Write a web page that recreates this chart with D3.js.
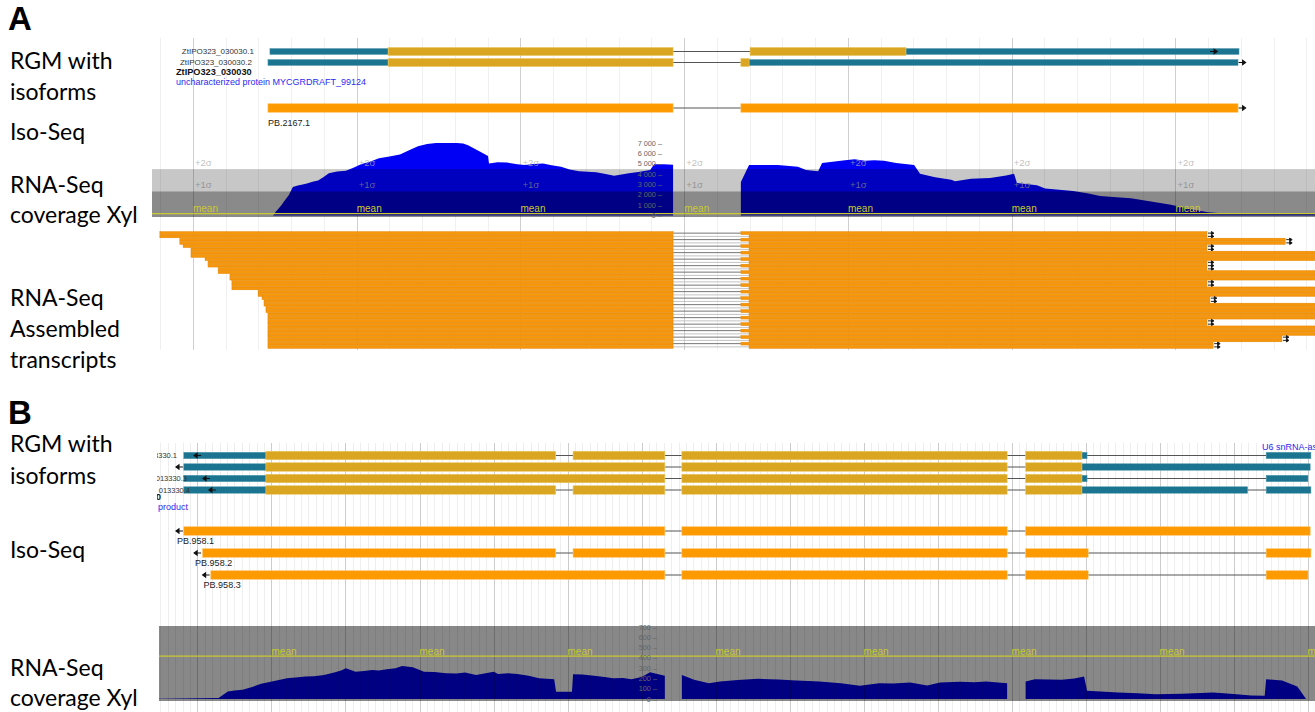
<!DOCTYPE html>
<html>
<head>
<meta charset="utf-8">
<script src="https://cdn.jsdelivr.net/npm/d3@7"></script>
<style>
  html, body { margin: 0; padding: 0; background: #fff; }
  svg { display: block; }
</style>
</head>
<body>
<svg id="fig" width="1315" height="712"></svg>
<script>
// ---------------- data ----------------
const panelNames = ["A", "B"];
const sideLabelsA = [["RGM with", "isoforms"], ["Iso-Seq"], ["RNA-Seq", "coverage Xyl"], ["RNA-Seq", "Assembled", "transcripts"]];
const sideLabelsB = [["RGM with", "isoforms"], ["Iso-Seq"], ["RNA-Seq", "coverage Xyl"]];

// genomic window shown in each panel (bp)
const viewA = [375, 3926];
const viewB = [896, 4020];

// Panel A: reference gene models
const rgmA_ids = ["ZtIPO323_030030.1", "ZtIPO323_030030.2"];
const rgmA_gene = "ZtIPO323_030030";
const rgmA_desc = "uncharacterized protein MYCGRDRAFT_99124";
const rgmA_utr = [[[735, 1096], [2677, 3694]], [[729, 1096], [2198, 3691]]];
const rgmA_cds = [[[1096, 1966], [2201, 2677]], [[1096, 1966], [2173, 2198]]];
const rgmA_arrow = [3615, 3705];

// Panel A: Iso-Seq transcript
const isoA_ids = ["PB.2167.1"];
const isoA_blocks = [[[729, 1966], [2173, 3691]]];
const isoA_arrow = [3705];

// Panel A: RNA-Seq coverage (position bp, depth)
const covA_pos = [375, 745, 752, 763, 770, 778, 786, 793, 805, 820, 835, 848, 865, 882, 898, 915, 940, 967, 990, 1013, 1040, 1068, 1100, 1132, 1160, 1187, 1215, 1242, 1306, 1325, 1340, 1373, 1401, 1404, 1430, 1459, 1490, 1514, 1540, 1569, 1595, 1624, 1650, 1679, 1705, 1731, 1760, 1786, 1831, 1860, 1896, 1908, 1938, 1966, 1966, 2173, 2173, 2198, 2286, 2347, 2372, 2409, 2421, 2491, 2520, 2552, 2580, 2610, 2647, 2702, 2720, 2766, 2815, 2827, 2876, 2934, 2983, 3007, 3016, 3077, 3102, 3145, 3187, 3230, 3270, 3320, 3364, 3425, 3486, 3544, 3599, 3630, 3926];
const covA_val = [0, 0, 350, 720, 1000, 1350, 1700, 1980, 2760, 2900, 3000, 3080, 3250, 3390, 3700, 4080, 4250, 4330, 4600, 4960, 5200, 5530, 5700, 5900, 6300, 6690, 6900, 7000, 7000, 6950, 6780, 6220, 5750, 5020, 5150, 5120, 4950, 4870, 4980, 5020, 4850, 4710, 4450, 4270, 4230, 4180, 4000, 3830, 4080, 4200, 4400, 4960, 4960, 4900, 0, 0, 3230, 4870, 4870, 4710, 4400, 4270, 5060, 5340, 5420, 5280, 5330, 5280, 5060, 4870, 4020, 3700, 3450, 3300, 3550, 3610, 3860, 4020, 3140, 2920, 2600, 2480, 2360, 2150, 1880, 1760, 1660, 1350, 1040, 630, 310, 250, 180];
const covA_mean = 180, covA_sd = 2150;
const covA_ticks = [0, 1000, 2000, 3000, 4000, 5000, 6000, 7000];
const covA_tickText = ["0", "1 000", "2 000", "3 000", "4 000", "5 000", "6 000", "7 000"];

// Panel A: assembled transcripts (one per row)
const asmA_start = [399, 399, 460, 460, 470, 494, 494, 494, 537, 546, 546, 577, 577, 613, 613, 619, 619, 619, 699, 699, 711, 717, 717, 723, 723, 729, 729, 729, 729, 729, 729, 729, 729, 729, 729, 729];
const asmA_exon1End = 1966;
const asmA_exon2Start = [2173, 2198, 2173, 2198, 2173, 2198, 2173, 2198, 2173, 2198, 2173, 2198, 2173, 2198, 2173, 2198, 2173, 2198, 2173, 2198, 2173, 2198, 2173, 2198, 2173, 2198, 2173, 2198, 2173, 2198, 2173, 2198, 2173, 2198, 2173, 2198];
const asmA_end = [3596, 3596, 3835, 3835, 3596, 3596, 3990, 3990, 3990, 3596, 3596, 3596, 3990, 3990, 3990, 3596, 3596, 3990, 3990, 3990, 3605, 3605, 3990, 3990, 3990, 3990, 3990, 3596, 3596, 3990, 3990, 3990, 3825, 3825, 3615, 3615];

// Panel B: reference gene models
const rgmB_ids = ["ZtIPO323_013330.1", "ZtIPO323_013330.2", "ZtIPO323_013330.3", "ZtIPO323_013330.4"];
const rgmB_gene = "ZtIPO323_013330";
const rgmB_desc = "product";
const rgmB_utr = [
  [[963, 1185], [3390, 3404], [3888, 4009]],
  [[963, 1185], [3390, 4007]],
  [[963, 1185], [3390, 3404], [3888, 4001]],
  [[963, 1185], [3390, 3838], [3888, 4009]]
];
const rgmB_cds = [
  [[1185, 1968], [2015, 2263], [2309, 3188], [3238, 3390]],
  [[1185, 2263], [2309, 3188], [3238, 3390]],
  [[1185, 2263], [2309, 3188], [3238, 3390]],
  [[1185, 1968], [2015, 2263], [2309, 3188], [3238, 3390]]
];
const rgmB_arrow = [999, 950, 1023, 1039];
const rgmB_neighbour = "U6 snRNA-associated";

// Panel B: Iso-Seq transcripts
const isoB_ids = ["PB.958.1", "PB.958.2", "PB.958.3"];
const isoB_blocks = [
  [[963, 2263], [2309, 3188], [3238, 4007]],
  [[1014, 1968], [2015, 2263], [2309, 3188], [3238, 3407], [3888, 4009]],
  [[1036, 2263], [2309, 3188], [3238, 3407], [3888, 4001]]
];
const isoB_arrow = [950, 999, 1022];

// Panel B: RNA-Seq coverage
const covB_pos = [896, 899, 1057, 1082, 1100, 1122, 1150, 1172, 1201, 1220, 1242, 1265, 1292, 1315, 1342, 1372, 1390, 1401, 1427, 1450, 1472, 1490, 1512, 1535, 1553, 1582, 1612, 1640, 1672, 1700, 1723, 1753, 1801, 1812, 1840, 1864, 1895, 1923, 1964, 1969, 2012, 2015, 2040, 2072, 2100, 2123, 2150, 2173, 2200, 2223, 2263, 2263, 2309, 2309, 2342, 2382, 2412, 2460, 2515, 2570, 2618, 2650, 2680, 2739, 2790, 2842, 2880, 2926, 2972, 3007, 3060, 3100, 3131, 3188, 3188, 3238, 3238, 3263, 3300, 3335, 3370, 3396, 3404, 3488, 3540, 3590, 3660, 3745, 3800, 3847, 3884, 3888, 3931, 3972, 3996, 4020];
const covB_val = [3, 3, 10, 74, 82, 90, 120, 148, 170, 185, 202, 210, 218, 222, 234, 260, 280, 298, 266, 272, 282, 278, 289, 300, 321, 308, 266, 262, 250, 248, 257, 234, 266, 244, 250, 244, 225, 202, 193, 70, 70, 241, 238, 225, 215, 202, 205, 193, 215, 260, 225, 0, 0, 234, 186, 154, 170, 185, 196, 190, 180, 176, 170, 154, 128, 154, 150, 160, 132, 160, 168, 164, 170, 154, 0, 0, 170, 193, 190, 186, 200, 218, 80, 64, 55, 45, 52, 64, 48, 35, 32, 193, 180, 122, 0, 0];
const covB_mean = 417, covB_sd = 330;
const covB_ticks = [0, 100, 200, 300, 400, 500, 600, 700];

// ---------------- drawing ----------------
const svg = d3.select("#fig");
const C = {
  teal: "#1b7590", gold: "#daa520", orange: "#fd9a00", asm: "#f7960a",
  intron: "#555", blue: "#0000f5", meanCol: "#c9c930", sigma: "rgba(170,170,170,0.75)",
  tick: "#666", desc: "#2b2bf0"
};
const sideFont = "Lato, 'Open Sans', sans-serif";
const trackFont = "'Liberation Sans', Arial, sans-serif";

// left-hand panel and track titles
function sideText(lines, x, y0, lh) {
  const t = svg.append("text").attr("font-family", sideFont).attr("font-size", 23).attr("fill", "#000");
  lines.forEach((s, i) => t.append("tspan").attr("x", x).attr("y", y0 + i * lh).text(s));
}
svg.append("text").attr("x", 8).attr("y", 30).attr("font-family", "'Liberation Sans', Arial, sans-serif")
  .attr("font-weight", "bold").attr("font-size", 33).text(panelNames[0]);
svg.append("text").attr("x", 8).attr("y", 424).attr("font-family", "'Liberation Sans', Arial, sans-serif")
  .attr("font-weight", "bold").attr("font-size", 33).text(panelNames[1]);
sideText(sideLabelsA[0], 10, 69, 31);
sideText(sideLabelsA[1], 10, 140, 31);
sideText(sideLabelsA[2], 10, 193, 30);
sideText(sideLabelsA[3], 10, 306, 31);
sideText(sideLabelsB[0], 10, 452, 32);
sideText(sideLabelsB[1], 10, 558, 31);
sideText(sideLabelsB[2], 10, 676, 30);

// generic helpers
function arrowGlyph(g, x, y, dir) {
  const d = dir > 0
    ? `M${x},${y}h5 M${x + 7},${y}l-3,-2.2v4.4z`
    : `M${x},${y}h-5 M${x - 7},${y}l3,-2.2v4.4z`;
  g.append("path").attr("d", d).attr("stroke", "#111").attr("stroke-width", 1.1).attr("fill", "#111");
}
function introns(blocks) {
  const b = blocks.slice().sort((p, q) => p[0] - q[0]);
  const out = [];
  for (let i = 1; i < b.length; i++) if (b[i][0] > b[i - 1][1]) out.push([b[i - 1][1], b[i][0]]);
  return out;
}
function grid(g, x, box, major, minor, minorCol, majorCol) {
  const [d0, d1] = x.domain();
  const minors = d3.range(Math.ceil(d0 / minor) * minor, d1, minor);
  g.selectAll(null).data(minors.filter(v => v % major !== 0)).join("line")
    .attr("x1", d => Math.round(x(d)) + 0.5).attr("x2", d => Math.round(x(d)) + 0.5)
    .attr("y1", box.y0).attr("y2", box.y1).attr("stroke", minorCol).attr("stroke-width", 1);
  g.selectAll(null).data(minors.filter(v => v % major === 0)).join("line")
    .attr("x1", d => Math.round(x(d)) + 0.5).attr("x2", d => Math.round(x(d)) + 0.5)
    .attr("y1", box.y0).attr("y2", box.y1).attr("stroke", majorCol).attr("stroke-width", 1);
}
function geneRow(g, x, y, utr, cds, hU, hC) {
  const all = utr.concat(cds);
  introns(all).forEach(([a, b]) => g.append("line").attr("x1", x(a)).attr("x2", x(b)).attr("y1", y).attr("y2", y)
    .attr("stroke", C.intron).attr("stroke-width", 1));
  utr.forEach(([a, b]) => g.append("rect").attr("x", x(a)).attr("width", x(b) - x(a)).attr("y", y - hU / 2).attr("height", hU)
    .attr("fill", C.teal).attr("stroke", "#5a9db2").attr("stroke-width", 0.5));
  cds.forEach(([a, b]) => g.append("rect").attr("x", x(a)).attr("width", x(b) - x(a)).attr("y", y - hC / 2).attr("height", hC)
    .attr("fill", C.gold).attr("stroke", "#ecc660").attr("stroke-width", 0.6));
}
function isoRow(g, x, y, blocks, h) {
  introns(blocks).forEach(([a, b]) => g.append("line").attr("x1", x(a)).attr("x2", x(b)).attr("y1", y).attr("y2", y)
    .attr("stroke", C.intron).attr("stroke-width", 1));
  blocks.forEach(([a, b]) => g.append("rect").attr("x", x(a)).attr("width", x(b) - x(a)).attr("y", y - h / 2).attr("height", h)
    .attr("fill", C.orange).attr("stroke", "#fbc060").attr("stroke-width", 0.6));
}
function coverage(g, x, y, pos, val) {
  const pts = pos.map((p, i) => [p, val[i]]);
  g.append("path").datum(pts)
    .attr("d", d3.area().x(d => x(d[0])).y0(y(0)).y1(d => y(d[1])))
    .attr("fill", C.blue);
}

// ======== Panel A ========
const boxA = { x0: 152, x1: 1315, y0: 38, y1: 350 };
const xA = d3.scaleLinear().domain(viewA).range([boxA.x0, boxA.x1]);
svg.append("clipPath").attr("id", "clipA").append("rect")
  .attr("x", boxA.x0).attr("y", boxA.y0 - 8).attr("width", boxA.x1 - boxA.x0).attr("height", boxA.y1 - boxA.y0 + 8);
const gA = svg.append("g").attr("clip-path", "url(#clipA)");
grid(gA, xA, boxA, 500, 100, "#f0f0f0", "#cfcfcf");

// gene models
const rowA = [51.5, 62.5];
rgmA_ids.forEach((id, i) => {
  geneRow(gA, xA, rowA[i], rgmA_utr[i], rgmA_cds[i], 6, 8);
  gA.append("text").attr("x", xA(d3.min(rgmA_utr[i], d => d[0])) - 16).attr("y", rowA[i] + 2.8)
    .attr("text-anchor", "end").attr("font-family", trackFont).attr("font-size", 8).attr("fill", "#333").text(id);
});
arrowGlyph(gA, xA(rgmA_arrow[0]) - 3, rowA[0], 1);
arrowGlyph(gA, xA(rgmA_arrow[1]) - 4, rowA[1], 1);
gA.append("text").attr("x", 176).attr("y", 75).attr("font-family", trackFont).attr("font-size", 9.2)
  .attr("font-weight", "bold").attr("fill", "#111").text(rgmA_gene);
gA.append("text").attr("x", 176).attr("y", 84.5).attr("font-family", trackFont).attr("font-size", 9)
  .attr("fill", C.desc).text(rgmA_desc);

// Iso-Seq
const isoYA = 108;
isoRow(gA, xA, isoYA, isoA_blocks[0], 8.5);
arrowGlyph(gA, xA(isoA_arrow[0]) - 4, isoYA, 1);
gA.append("text").attr("x", xA(isoA_blocks[0][0][0])).attr("y", 125.5).attr("font-family", trackFont)
  .attr("font-size", 9).attr("fill", "#222").text(isoA_ids[0]);

// coverage
const yA = d3.scaleLinear().domain([0, 7000]).range([215.5, 143]);
const covBottomA = 217;
coverage(gA, xA, yA, covA_pos, covA_val);
// sigma labels
const majA = d3.range(500, viewA[1], 500);
majA.forEach(p => {
  gA.append("text").attr("x", xA(p) + 2).attr("y", yA(covA_mean + 2 * covA_sd) - 3).attr("font-family", trackFont)
    .attr("font-size", 9.5).attr("fill", C.sigma).text("+2σ");
  gA.append("text").attr("x", xA(p) + 2).attr("y", yA(covA_mean + covA_sd) - 3).attr("font-family", trackFont)
    .attr("font-size", 9.5).attr("fill", C.sigma).text("+1σ");
});
// standard-deviation bands (translucent so the coverage darkens beneath)
gA.append("rect").attr("x", boxA.x0).attr("width", boxA.x1 - boxA.x0)
  .attr("y", yA(covA_mean + 2 * covA_sd)).attr("height", yA(covA_mean + covA_sd) - yA(covA_mean + 2 * covA_sd))
  .attr("fill", "rgba(0,0,0,0.22)");
gA.append("rect").attr("x", boxA.x0).attr("width", boxA.x1 - boxA.x0)
  .attr("y", yA(covA_mean + covA_sd)).attr("height", covBottomA - yA(covA_mean + covA_sd))
  .attr("fill", "rgba(0,0,0,0.46)");
gA.append("line").attr("x1", boxA.x0).attr("x2", boxA.x1).attr("y1", yA(covA_mean)).attr("y2", yA(covA_mean))
  .attr("stroke", C.meanCol).attr("stroke-width", 1.2);
majA.forEach(p => gA.append("text").attr("x", xA(p)).attr("y", yA(covA_mean) - 1.5).attr("font-family", trackFont)
  .attr("font-size", 10).attr("fill", C.meanCol).text("mean"));
// depth axis
covA_ticks.forEach((t, i) => gA.append("text").attr("x", 662).attr("y", yA(t) + 2.5).attr("text-anchor", "end")
  .attr("font-family", trackFont).attr("font-size", 7.3).attr("fill", C.tick).text(covA_tickText[i] + " \u2013"));

// assembled transcripts
const asmTop = 231.5, asmPitch = 3.25;
asmA_start.forEach((s, i) => {
  const yc = asmTop + i * asmPitch + asmPitch / 2;
  gA.append("line").attr("x1", xA(asmA_exon1End)).attr("x2", xA(asmA_exon2Start[i])).attr("y1", yc).attr("y2", yc)
    .attr("stroke", i % 2 ? "#bbb" : "#666").attr("stroke-width", 0.9);
  gA.append("rect").attr("x", xA(s)).attr("width", xA(asmA_exon1End) - xA(s))
    .attr("y", yc - asmPitch / 2 + 0.2).attr("height", asmPitch - 0.4)
    .attr("fill", C.asm).attr("stroke", "#e08400").attr("stroke-width", 0.5);
  gA.append("rect").attr("x", xA(asmA_exon2Start[i])).attr("width", xA(asmA_end[i]) - xA(asmA_exon2Start[i]))
    .attr("y", yc - asmPitch / 2 + 0.2).attr("height", asmPitch - 0.4)
    .attr("fill", C.asm).attr("stroke", "#e08400").attr("stroke-width", 0.5);
  if (asmA_end[i] < viewA[1]) {
    const xe = xA(asmA_end[i]) + 1;
    gA.append("path").attr("d", `M${xe},${yc}h4 M${xe + 6},${yc}l-2.5,-1.6v3.2z`)
      .attr("stroke", "#111").attr("stroke-width", 0.9).attr("fill", "#111");
  }
});

// ======== Panel B ========
const boxB = { x0: 159, x1: 1315, y0: 443, y1: 712 };
const xB = d3.scaleLinear().domain(viewB).range([boxB.x0, boxB.x1]);
svg.append("clipPath").attr("id", "clipB").append("rect")
  .attr("x", boxB.x0 - 2).attr("y", boxB.y0).attr("width", boxB.x1 - boxB.x0 + 2).attr("height", boxB.y1 - boxB.y0);
const gB = svg.append("g").attr("clip-path", "url(#clipB)");

// coverage first, then its band, so grid lines show across the grey
const yB = d3.scaleLinear().domain([0, 700]).range([699, 627]);
const covTopB = 626, covBottomB = 701;
coverage(gB, xB, yB, covB_pos, covB_val);
gB.append("rect").attr("x", boxB.x0).attr("width", boxB.x1 - boxB.x0)
  .attr("y", Math.max(covTopB, yB(covB_mean + covB_sd))).attr("height", covBottomB - Math.max(covTopB, yB(covB_mean + covB_sd)))
  .attr("fill", "rgba(0,0,0,0.465)");
grid(gB, xB, boxB, 200, 20, "rgba(0,0,0,0.065)", "rgba(0,0,0,0.2)");
gB.append("line").attr("x1", boxB.x0).attr("x2", boxB.x1).attr("y1", yB(covB_mean)).attr("y2", yB(covB_mean))
  .attr("stroke", C.meanCol).attr("stroke-width", 1.2);
d3.range(1200, viewB[1] + 1, 400).forEach(p => gB.append("text").attr("x", xB(p)).attr("y", yB(covB_mean) - 1.5)
  .attr("font-family", trackFont).attr("font-size", 10).attr("fill", C.meanCol).text("mean"));
covB_ticks.forEach(t => gB.append("text").attr("x", 657).attr("y", yB(t) + 2.5).attr("text-anchor", "end")
  .attr("font-family", trackFont).attr("font-size", 7.3).attr("fill", C.tick).text(t + " \u2013"));

// gene models
const rowB = [455.5, 467, 478.5, 490];
const labelEndB = [177, null, 187, 190];
rgmB_ids.forEach((id, i) => {
  geneRow(gB, xB, rowB[i], rgmB_utr[i], rgmB_cds[i], 6.5, 8.5);
  if (labelEndB[i] !== null) gB.append("text").attr("x", labelEndB[i]).attr("y", rowB[i] + 2.6).attr("text-anchor", "end")
    .attr("font-family", trackFont).attr("font-size", 7.5).attr("fill", "#333").text(id);
  arrowGlyph(gB, xB(rgmB_arrow[i]) + 4, rowB[i], -1);
});
gB.append("text").attr("x", 161).attr("y", 499.5).attr("text-anchor", "end").attr("font-family", trackFont)
  .attr("font-size", 9).attr("font-weight", "bold").attr("fill", "#111").text(rgmB_gene);
gB.append("text").attr("x", 158).attr("y", 509.5).attr("font-family", trackFont).attr("font-size", 9)
  .attr("fill", C.desc).text(rgmB_desc);
gB.append("text").attr("x", 1262).attr("y", 449.5).attr("font-family", trackFont).attr("font-size", 9)
  .attr("fill", C.desc).text(rgmB_neighbour);

// Iso-Seq
const isoYB = [531, 553, 575];
isoB_ids.forEach((id, i) => {
  isoRow(gB, xB, isoYB[i], isoB_blocks[i], 8.5);
  arrowGlyph(gB, xB(isoB_arrow[i]) + 4, isoYB[i], -1);
  gB.append("text").attr("x", xB(isoB_arrow[i]) - 2).attr("y", isoYB[i] + 13).attr("font-family", trackFont)
    .attr("font-size", 9).attr("fill", "#222").text(id);
});
</script>
</body>
</html>
